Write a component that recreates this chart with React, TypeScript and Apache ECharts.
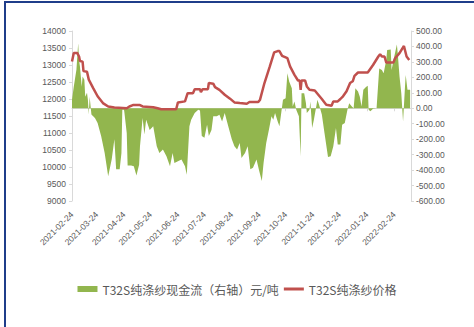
import React, { useEffect, useRef } from "react";
import * as echarts from "echarts";

const tickLabels = [
  "2021-02-24", "2021-03-24", "2021-04-24", "2021-05-24", "2021-06-24", "2021-07-24",
  "2021-08-24", "2021-09-24", "2021-10-24", "2021-11-24", "2021-12-24", "2022-01-24", "2022-02-24",
];

const priceDates = [
  "2021-02-24", "2021-02-26", "2021-03-02", "2021-03-04", "2021-03-05", "2021-03-08", "2021-03-09",
  "2021-03-13", "2021-03-15", "2021-03-20", "2021-03-25", "2021-03-31", "2021-04-06", "2021-04-13",
  "2021-04-27", "2021-04-30", "2021-05-04", "2021-05-12", "2021-05-15", "2021-05-27", "2021-06-01",
  "2021-06-05", "2021-06-22", "2021-06-24", "2021-07-02", "2021-07-05", "2021-07-11", "2021-07-13",
  "2021-07-19", "2021-07-20", "2021-07-22", "2021-07-28", "2021-07-29", "2021-08-03", "2021-08-05",
  "2021-08-10", "2021-08-16", "2021-08-22", "2021-08-27", "2021-09-02", "2021-09-10", "2021-09-13",
  "2021-09-23", "2021-09-25", "2021-09-30", "2021-10-06", "2021-10-11", "2021-10-15", "2021-10-17",
  "2021-10-20", "2021-10-26", "2021-10-29", "2021-11-03", "2021-11-07", "2021-11-09", "2021-11-10",
  "2021-11-11", "2021-11-15", "2021-11-17", "2021-11-20", "2021-11-26", "2021-11-30", "2021-12-04",
  "2021-12-09", "2021-12-15", "2021-12-17", "2021-12-22", "2021-12-25", "2021-12-28", "2022-01-01",
  "2022-01-05", "2022-01-08", "2022-01-10", "2022-01-14", "2022-01-25", "2022-01-31", "2022-02-06",
  "2022-02-08", "2022-02-10", "2022-02-13", "2022-02-15", "2022-02-23", "2022-02-25", "2022-03-02",
  "2022-03-07", "2022-03-10", "2022-03-13",
];
const priceValues = [
  13100, 13350, 13350, 13250, 13120, 13100, 12820,
  12800, 12570, 12320, 12080, 11880, 11780, 11750,
  11730, 11780, 11820, 11820, 11780, 11760, 11730,
  11700, 11700, 11900, 11930, 12170, 12170, 12290,
  12290, 12200, 12290, 12290, 12470, 12450, 12350,
  12270, 12125, 12010, 11900, 11880, 11860, 11910,
  11910, 11980, 12470, 12950, 13370, 13410, 13410,
  13270, 13200, 12960, 12710, 12545, 12545, 12270,
  12545, 12545, 12370, 12270, 12250, 12125, 12000,
  11830, 11800, 11930, 11930, 12000, 12080, 12230,
  12470, 12520, 12680, 12780, 12780, 13000, 13250,
  13320, 13250, 13250, 13070, 13070, 13200, 13350,
  13560, 13250, 13150,
];

const flowDates = [
  "2021-02-24", "2021-02-26", "2021-03-01", "2021-03-03", "2021-03-04", "2021-03-05", "2021-03-07",
  "2021-03-08", "2021-03-10", "2021-03-11", "2021-03-13", "2021-03-14", "2021-03-15", "2021-03-16",
  "2021-03-18", "2021-03-22", "2021-03-25", "2021-03-29", "2021-04-02", "2021-04-06", "2021-04-10",
  "2021-04-13", "2021-04-15", "2021-04-19", "2021-04-21", "2021-04-22", "2021-04-24", "2021-04-27",
  "2021-04-28", "2021-05-02", "2021-05-05", "2021-05-08", "2021-05-11", "2021-05-12", "2021-05-15",
  "2021-05-17", "2021-05-19", "2021-05-23", "2021-05-27", "2021-05-31", "2021-06-03", "2021-06-07",
  "2021-06-11", "2021-06-15", "2021-06-18", "2021-06-20", "2021-06-24", "2021-06-28", "2021-07-02",
  "2021-07-04", "2021-07-07", "2021-07-09", "2021-07-13", "2021-07-17", "2021-07-19", "2021-07-21",
  "2021-07-24", "2021-07-27", "2021-07-29", "2021-08-01", "2021-08-03", "2021-08-07", "2021-08-10",
  "2021-08-13", "2021-08-16", "2021-08-20", "2021-08-24", "2021-08-27", "2021-08-30", "2021-09-02",
  "2021-09-04", "2021-09-08", "2021-09-11", "2021-09-14", "2021-09-17", "2021-09-21", "2021-09-24",
  "2021-09-27", "2021-09-29", "2021-10-02", "2021-10-05", "2021-10-08", "2021-10-10", "2021-10-12",
  "2021-10-15", "2021-10-17", "2021-10-19", "2021-10-21", "2021-10-24", "2021-10-26", "2021-10-28",
  "2021-10-31", "2021-11-01", "2021-11-03", "2021-11-05", "2021-11-08", "2021-11-10", "2021-11-11",
  "2021-11-14", "2021-11-16", "2021-11-17", "2021-11-20", "2021-11-21", "2021-11-23", "2021-11-25",
  "2021-11-27", "2021-11-29", "2021-12-01", "2021-12-02", "2021-12-04", "2021-12-07", "2021-12-11",
  "2021-12-14", "2021-12-17", "2021-12-20", "2021-12-22", "2021-12-25", "2021-12-27", "2021-12-30",
  "2022-01-02", "2022-01-04", "2022-01-07", "2022-01-09", "2022-01-11", "2022-01-14", "2022-01-16",
  "2022-01-18", "2022-01-20", "2022-01-23", "2022-01-25", "2022-01-26", "2022-01-28", "2022-01-31",
  "2022-02-04", "2022-02-07", "2022-02-10", "2022-02-12", "2022-02-15", "2022-02-16", "2022-02-20",
  "2022-02-21", "2022-02-24", "2022-02-27", "2022-02-28", "2022-03-02", "2022-03-04", "2022-03-06",
  "2022-03-08", "2022-03-09", "2022-03-11", "2022-03-14",
];
const flowValues = [
  55, 140, 250, 420, 310, 270, 140,
  205, 185, 75, 100, 55, -40, 75,
  -40, -63, -95, -180, -290, -440, -330,
  -200, -395, -395, -290, -10, -10, -160,
  -370, -370, -375, -435, -365, -245, -63,
  -170, -75, -140, -117, -245, -290, -267,
  -310, -375, -290, -354, -343, -332, -375,
  -430, -117, -75, -30, -10, -15, -180,
  -190, -107, -180, -140, -52, -52, -42,
  -85, -30, -117, -200, -245, -267, -225,
  -321, -290, -245, -395, -385, -332, -405,
  -470, -354, -225, -140, -52, -75, -30,
  -85, -117, -30, 55, 65, 227, 173,
  130, 12, 44, -10, -52, -310, 98,
  98, 33, -30, -10, 44, -128, -75,
  -10, 55, 20, 0, -40, -160, -315,
  -310, -245, -128, -235, -235, -107, -95,
  -10, 33, 12, 0, 130, 108, 75,
  12, 120, 137, 145, -10, -20, -3,
  0, 258, 248, 227, 312, 377, 381,
  248, 334, 413, 355, 205, 98, -85,
  120, 216, 120, 120,
];

const flowName = "T32S纯涤纱现金流（右轴）元/吨";
const priceName = "T32S纯涤纱价格";

export default function App() {
  const ref = useRef<HTMLDivElement>(null);
  useEffect(() => {
    if (!ref.current) return;
    const chart = echarts.init(ref.current, null, { renderer: "svg" });
    const ts = (d: string) => echarts.time.parse(d).getTime();
    const tickValues = tickLabels.map(ts);
    const labelColor = "#595959";
    const axisGray = "#d9d9d9";
    const font = "'Liberation Sans', Arial, sans-serif";
    const green = "#92b64e";
    const red = "#c0504d";
    chart.setOption({
      animation: false,
      backgroundColor: "#ffffff",
      textStyle: { fontFamily: font },
      graphic: [
        { type: "rect", shape: { x: 4, y: 1, width: 2, height: 326 }, style: { fill: "#1f3d8a" } },
        { type: "rect", shape: { x: 4, y: 1, width: 470, height: 2 }, style: { fill: "#1f3d8a" } },
      ],
      grid: { left: 72, right: 63, top: 31, bottom: 126, containLabel: false },
      legend: {
        left: "center",
        top: 278,
        itemGap: 5,
        itemWidth: 20,
        itemHeight: 6,
        textStyle: { fontSize: 12, color: labelColor, fontFamily: "'Noto Sans CJK SC', sans-serif" },
        data: [
          { name: flowName, icon: "rect", itemStyle: { color: green } },
          { name: priceName, icon: "path://M0,0 L20,0 L20,3 L0,3 Z", itemStyle: { color: red } },
        ],
      },
      xAxis: {
        type: "value",
        min: ts("2021-02-24"),
        max: ts("2022-03-15"),
        axisLine: { show: true, lineStyle: { color: axisGray } },
        axisTick: { show: true, length: 3, lineStyle: { color: axisGray }, customValues: tickValues },
        splitLine: { show: false },
        axisLabel: {
          customValues: tickValues,
          rotate: 45,
          fontSize: 8.5,
          color: labelColor,
          margin: 12,
          formatter: (v: number) => echarts.time.format(v, "{yyyy}-{MM}-{dd}", false),
        },
      },
      yAxis: [
        {
          type: "value",
          min: 9000,
          max: 14000,
          interval: 500,
          position: "left",
          axisLine: { show: true, lineStyle: { color: axisGray } },
          axisTick: { show: true, length: 3, lineStyle: { color: axisGray } },
          splitLine: { show: false },
          axisLabel: { fontSize: 8.5, color: labelColor, margin: 6, formatter: (v: number) => String(v) },
        },
        {
          type: "value",
          min: -600,
          max: 500,
          interval: 100,
          position: "right",
          axisLine: { show: true, lineStyle: { color: axisGray } },
          axisTick: { show: true, length: 3, lineStyle: { color: axisGray } },
          splitLine: { show: false },
          axisLabel: {
            fontSize: 8.5,
            color: labelColor,
            margin: 5,
            formatter: (v: number) => v.toFixed(2),
          },
        },
      ],
      series: [
        {
          name: flowName,
          type: "line",
          yAxisIndex: 1,
          symbol: "none",
          lineStyle: { width: 0 },
          itemStyle: { color: green },
          areaStyle: { color: green, opacity: 1, origin: 0 },
          data: flowDates.map((d, i) => [ts(d), flowValues[i]]),
          z: 1,
        },
        {
          name: priceName,
          type: "line",
          yAxisIndex: 0,
          symbol: "none",
          lineStyle: { width: 2.5, color: red },
          itemStyle: { color: red },
          data: priceDates.map((d, i) => [ts(d), priceValues[i]]),
          z: 3,
        },
      ],
    });
    return () => chart.dispose();
  }, []);
  return (
    <div
      ref={ref}
      style={{ position: "absolute", left: 0, top: 0, width: 474, height: 327 }}
    />
  );
}
